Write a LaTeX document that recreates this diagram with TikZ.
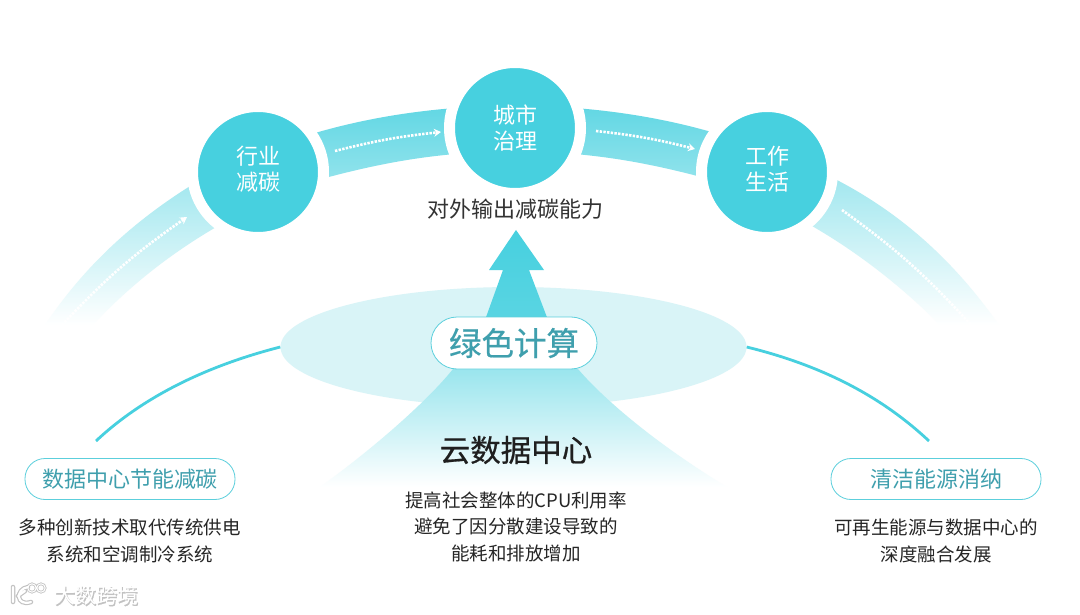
\documentclass[tikz,border=0pt]{standalone}
\usepackage{fontspec}
\setmainfont{Noto Sans CJK SC}
\newfontfamily\cjkmid[FakeBold=0.6]{Noto Sans CJK SC}
\usepackage{xcolor}
\usetikzlibrary{shapes.geometric, arrows.meta, positioning}
\definecolor{tealfill}{HTML}{47D0DF}
\definecolor{tealline}{HTML}{5CCFDC}
\definecolor{tealtext}{HTML}{3F9FAD}
\definecolor{paletop}{HTML}{D9F4F7}
\newcommand{\lowgap}[1]{\raisebox{0pt}[\height][\dimexpr\depth+6pt]{#1}}
\begin{document}
\begin{tikzpicture}[
    x=1pt, y=-1pt,
    hub/.style={circle, fill=tealfill, draw=white, line width=11pt, minimum size=131pt, inner sep=0pt, align=center, text=white, font=\fontsize{22}{25.5}\selectfont},
    tag/.style={rectangle, rounded corners=20pt, draw=tealline, fill=white, line width=0.8pt, minimum width=210pt, minimum height=41pt, inner sep=0pt, text=tealtext, font=\fontsize{22}{26}\selectfont},
    note/.style={align=center, inner sep=0pt, text=black!85, font=\fontsize{18.5}{26.5}\selectfont},
    dotline/.style={draw=white, line width=2.6pt, dash pattern=on 2.4pt off 1.3pt},
    tip/.style={-{Stealth[length=7pt,width=8pt]}},
    link/.style={draw=tealfill, line width=2.8pt},
    markshade/.style={black!24, line cap=round},
    markface/.style={white, line cap=round}
]
    \useasboundingbox (0,0) rectangle (1080,615);
    \fill[white] (0,0) rectangle (1080,615);

    % ribbons behind the circles
    \shade[top color=white!50!tealfill, bottom color=white] (45,325) .. controls (85,265) and (135,220) .. (195,183) -- (225,222) .. controls (175,250) and (130,285) .. (93,325) -- cycle;
    \shade[top color=tealfill!85, bottom color=tealfill!60] (315,133) .. controls (360,120) and (405,112) .. (455,108) -- (455,154) .. controls (410,158) and (370,166) .. (325,178) -- cycle;
    \shade[top color=tealfill!85, bottom color=tealfill!60] (575,108) .. controls (625,112) and (670,120) .. (715,133) -- (705,178) .. controls (660,166) and (620,158) .. (575,154) -- cycle;
    \shade[top color=white!50!tealfill, bottom color=white] (835,179) .. controls (895,210) and (950,255) .. (999,325) -- (940,325) .. controls (900,285) and (855,250) .. (805,222) -- cycle;

    % ellipse and the two thin arcs
    \coordinate (leftend) at (96,441);
    \coordinate (rightend) at (929,441);
    \node (green) [ellipse, fill=paletop, minimum width=466pt, minimum height=120pt, inner sep=0pt] at (513.5,347) {};
    \draw[link] (leftend) .. controls (145,395) and (210,365) .. (green.west);
    \draw[link] (green.east) .. controls (820,365) and (880,395) .. (rightend);

    % mountain and arrow
    \shade[top color=white!45!tealfill, bottom color=white] (453,369) -- (578,369) .. controls (600,395) and (650,440) .. (727,487) -- (320,487) .. controls (378,445) and (430,398) .. (453,369) -- cycle;
    \shade[top color=tealfill, bottom color=tealfill!90] (516,230) -- (544,270) -- (529,270) -- (548,320) -- (485,320) -- (503,270) -- (489,270) -- cycle;

    % circles
    \node (trade) [hub] at (258,172) {行业\\\lowgap{减碳}};
    \node (city) [hub] at (515,128) {城市\\治理};
    \node (life) [hub] at (767,172) {工作\\\lowgap{生活}};

    % dotted arrows on the ribbons
    \coordinate (a1) at (62,325);
    \coordinate (a2) at (187,217);
    \coordinate (b1) at (335,151);
    \coordinate (b2) at (441,132);
    \coordinate (c1) at (596,131);
    \coordinate (c2) at (695,149);
    \coordinate (d1) at (842,210);
    \coordinate (d2) at (971,325);
    \draw[dotline, tip] (a1) to[bend left=6] (a2);
    \draw[dotline, tip] (b1) to[bend left=4] (b2);
    \draw[dotline, tip] (c1) to[bend left=4] (c2);
    \draw[dotline] (d1) to[bend left=6] (d2);

    % labels
    \node (reach) [text=black!80, font=\fontsize{22}{26}\selectfont, inner sep=0pt] at (515,209) {对外输出减碳能力};
    \node (gc) [tag, minimum width=166pt, minimum height=52pt, rounded corners=26pt, font=\fontsize{32.5}{36}\selectfont\cjkmid] at (514,343) {绿色计算};
    \node (cloud) [font=\fontsize{30.5}{34}\selectfont\cjkmid, text=black!88, inner sep=0pt] at (516,450) {云数据中心};
    \node (cloudnote) [note, below=27pt of cloud] {提高社会整体的CPU利用率\\避免了因分散建设导致的\\能耗和排放增加};
    \node (saving) [tag] at (130,479) {数据中心节能减碳};
    \node (savingnote) [note, below=19pt of saving] {多种创新技术取代传统供电\\系统和空调制冷系统};
    \node (clean) [tag] at (936,479) {清洁能源消纳};
    \node (cleannote) [note, below=19pt of clean] {可再生能源与数据中心的\\深度融合发展};

    % watermark
    \node (markback) [text=black!24, font=\fontsize{21}{24}\selectfont\cjkmid, inner sep=0pt] at (97,596.5) {大数跨境};
    \node (mark) [text=white, font=\fontsize{21}{24}\selectfont, inner sep=0pt] at ([shift={(-0.6,-0.6)}]markback) {大数跨境};
    \draw[markshade, line width=4.5pt] (13,587) -- (13,602) (28,587) .. controls (15,589) and (16,607) .. (31,602) (25,591) -- (18,596);
    \draw[markshade, line width=2.6pt] (32,588) circle (4.2) (41,588) circle (4.2);
    \draw[markface, line width=2.2pt] (13,587) -- (13,602) (28,587) .. controls (15,589) and (16,607) .. (31,602) (25,591) -- (18,596);
    \draw[markface, line width=1pt] (32,588) circle (4.2) (41,588) circle (4.2);
\end{tikzpicture}
\end{document}
